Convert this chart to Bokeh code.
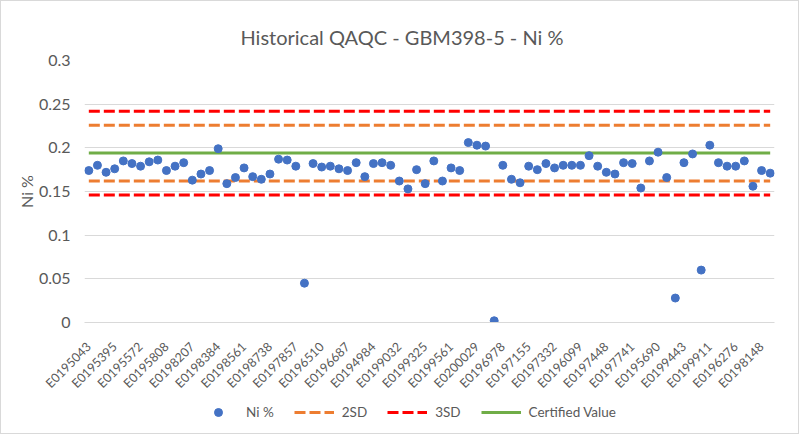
import math
from bokeh.plotting import figure
from bokeh.layouts import column
from bokeh.models import Legend, LegendItem, FixedTicker, Range1d
from bokeh.embed import file_html
from bokeh.resources import INLINE

# ---- data ----
tick_labels = ["E0195043", "E0195395", "E0195572", "E0195808", "E0198207", "E0198384",
               "E0198561", "E0198738", "E0197857", "E0196510", "E0196687", "E0194984",
               "E0199032", "E0199325", "E0199561", "E0200029", "E0196978", "E0197155",
               "E0197332", "E0196099", "E0197448", "E0197741", "E0195690", "E0199443",
               "E0199911", "E0196276", "E0198148"]
label_step = 3

ni_values = [0.174, 0.180, 0.172, 0.176, 0.185, 0.182, 0.179, 0.184, 0.186, 0.174,
             0.179, 0.183, 0.163, 0.170, 0.174, 0.199, 0.159, 0.166, 0.177, 0.167,
             0.164, 0.170, 0.187, 0.186, 0.179, 0.045, 0.182, 0.178, 0.179, 0.176,
             0.174, 0.183, 0.167, 0.182, 0.183, 0.180, 0.162, 0.153, 0.175, 0.159,
             0.185, 0.162, 0.177, 0.174, 0.206, 0.203, 0.202, 0.002, 0.180, 0.164,
             0.160, 0.179, 0.175, 0.182, 0.177, 0.180, 0.180, 0.180, 0.191, 0.179,
             0.172, 0.170, 0.183, 0.182, 0.154, 0.185, 0.195, 0.166, 0.028, 0.183,
             0.193, 0.060, 0.203, 0.183, 0.179, 0.179, 0.185, 0.156, 0.174, 0.171]

certified_value = 0.194
sd = 0.016
y_ticks = [0, 0.05, 0.1, 0.15, 0.2, 0.25, 0.3]
y_tick_text = ["0", "0.05", "0.1", "0.15", "0.2", "0.25", "0.3"]
legend_labels = ["Ni %", "2SD", "3SD", "Certified Value"]

# ---- derived ----
n = len(ni_values)
idx = list(range(n))
cv_line = [certified_value] * n
sd2_hi = [certified_value + 2 * sd] * n
sd2_lo = [certified_value - 2 * sd] * n
sd3_hi = [certified_value + 3 * sd] * n
sd3_lo = [certified_value - 3 * sd] * n

TXT = "#595959"
FONT = "Lato"
C_PTS, C_2SD, C_3SD, C_CV = "#4472C4", "#ED7D31", "#FF0000", "#70AD47"
DASH = "11 4"

p = figure(width=797, height=398, output_backend="svg", toolbar_location=None,
           x_range=Range1d(-0.5, n - 0.5), y_range=Range1d(0, 0.3),
           min_border_left=83, min_border_right=24, min_border_top=59, min_border_bottom=77)
p.outline_line_color = None
p.background_fill_color = "white"
p.border_fill_color = "white"

p.title.text = "Historical QAQC - GBM398-5 - Ni %"
p.title.align = "left"
p.title.vertical_align = "top"
p.title.offset = 156
p.title.standoff = 20
p.title.text_font = FONT
p.title.text_font_size = "20px"
p.title.text_font_style = "normal"
p.title.text_color = TXT

p.xgrid.grid_line_color = None
p.ygrid.grid_line_color = "#d9d9d9"
p.ygrid.grid_line_width = 1
p.yaxis.ticker = FixedTicker(ticks=y_ticks)
p.xaxis.ticker = FixedTicker(ticks=idx[::label_step])
p.xaxis.major_label_overrides = {i: lab for i, lab in zip(idx[::label_step], tick_labels)}
p.yaxis.major_label_overrides = {t: s for t, s in zip(y_ticks, y_tick_text)}

for ax in (p.xaxis, p.yaxis):
    ax.major_tick_line_color = None
    ax.minor_tick_line_color = None
    ax.major_label_text_color = TXT
    ax.major_label_text_font = FONT
p.yaxis.axis_line_color = None
p.xaxis.axis_line_color = "#d9d9d9"
p.yaxis.major_label_text_font_size = "16px"
p.xaxis.major_label_text_font_size = "12.5px"
p.xaxis.major_label_orientation = math.pi / 4
p.xaxis.major_label_standoff = 16
p.yaxis.major_label_standoff = 8
p.yaxis.axis_label = "Ni %"
p.yaxis.axis_label_text_font = FONT
p.yaxis.axis_label_text_font_size = "16px"
p.yaxis.axis_label_text_font_style = "normal"
p.yaxis.axis_label_text_color = TXT
p.yaxis.axis_label_standoff = 0

p.line(idx, sd3_hi, line_color=C_3SD, line_width=3, line_dash=DASH)
p.line(idx, sd3_lo, line_color=C_3SD, line_width=3, line_dash=DASH)
p.line(idx, sd2_hi, line_color=C_2SD, line_width=3, line_dash=DASH)
p.line(idx, sd2_lo, line_color=C_2SD, line_width=3, line_dash=DASH)
p.line(idx, cv_line, line_color=C_CV, line_width=3)
p.scatter(idx, ni_values, size=8, fill_color=C_PTS, line_color=C_PTS)

# legend strip below the chart: same series drawn again, but its view range
# lies above all of the data, so only the legend keys show.
lg = figure(width=797, height=34, output_backend="svg", toolbar_location=None,
            x_range=Range1d(-0.5, n - 0.5), y_range=Range1d(1, 2),
            x_axis_type=None, y_axis_type=None, min_border=0)
lg.outline_line_color = None
lg.grid.grid_line_color = None
k_pts = lg.scatter(idx, ni_values, size=8, fill_color=C_PTS, line_color=C_PTS)
k_2sd = lg.line(idx, sd2_hi, line_color=C_2SD, line_width=3, line_dash=DASH)
k_3sd = lg.line(idx, sd3_hi, line_color=C_3SD, line_width=3, line_dash=DASH)
k_cv = lg.line(idx, cv_line, line_color=C_CV, line_width=3)
legend = Legend(items=[LegendItem(label=lab, renderers=[r]) for lab, r in
                       zip(legend_labels, [k_pts, k_2sd, k_3sd, k_cv])],
                orientation="horizontal", location=(114, 11),
                glyph_width=40, label_standoff=8, spacing=20,
                label_text_font=FONT, label_text_font_size="13.5px", label_text_color=TXT,
                border_line_color=None, background_fill_alpha=0, margin=0, padding=2)
lg.add_layout(legend, "center")

layout = column(p, lg, spacing=0)
layout.styles = {"border": "1px solid #d9d9d9"}

open("out.html", "w").write(file_html(layout, INLINE))
